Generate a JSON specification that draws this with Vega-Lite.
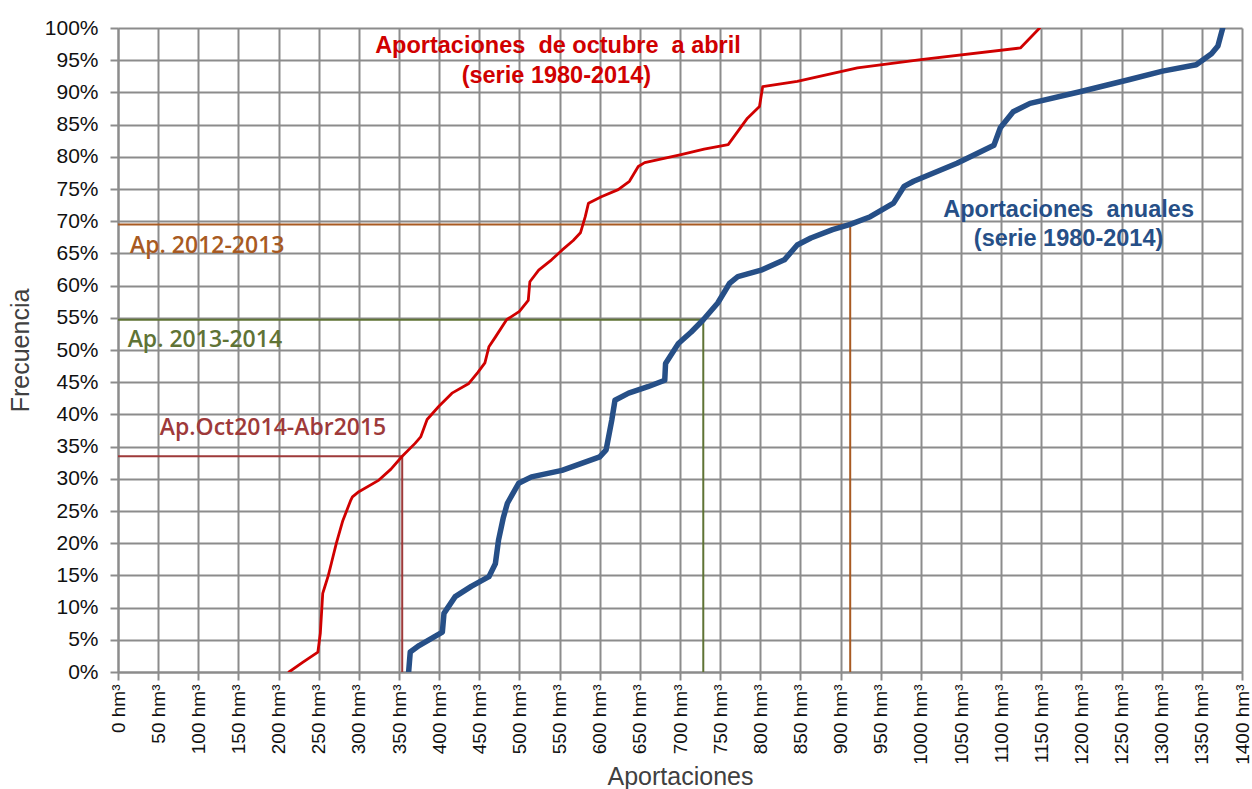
{
  "$schema": "https://vega.github.io/schema/vega-lite/v6.json",
  "autosize": {"type": "none"},
  "padding": {"left": 118, "top": 28, "right": 10, "bottom": 117},
  "width": 1124,
  "height": 644,
  "background": "white",
  "config": {
    "view": {"stroke": null},
    "font": "Liberation Sans",
    "axis": {"labelOverlap": false, "labelBound": false, "labelFlush": false, "labelSeparation": 0}
  },
  "datasets": {
    "curves": [
      {"g": "oct", "o": 1, "x": 213, "y": 0},
      {"g": "oct", "o": 2, "x": 230, "y": 1.5},
      {"g": "oct", "o": 3, "x": 249, "y": 3.1},
      {"g": "oct", "o": 4, "x": 252, "y": 6},
      {"g": "oct", "o": 5, "x": 255, "y": 12.2},
      {"g": "oct", "o": 6, "x": 257, "y": 13},
      {"g": "oct", "o": 7, "x": 262, "y": 15},
      {"g": "oct", "o": 8, "x": 266, "y": 17},
      {"g": "oct", "o": 9, "x": 272, "y": 20},
      {"g": "oct", "o": 10, "x": 280, "y": 23.5},
      {"g": "oct", "o": 11, "x": 290, "y": 26.7},
      {"g": "oct", "o": 12, "x": 292, "y": 27.2},
      {"g": "oct", "o": 13, "x": 300, "y": 28},
      {"g": "oct", "o": 14, "x": 325, "y": 29.8},
      {"g": "oct", "o": 15, "x": 340, "y": 31.5},
      {"g": "oct", "o": 16, "x": 354, "y": 33.5},
      {"g": "oct", "o": 17, "x": 370, "y": 35.5},
      {"g": "oct", "o": 18, "x": 377, "y": 36.5},
      {"g": "oct", "o": 19, "x": 385, "y": 39.2},
      {"g": "oct", "o": 20, "x": 400, "y": 41.3},
      {"g": "oct", "o": 21, "x": 416, "y": 43.3},
      {"g": "oct", "o": 22, "x": 437, "y": 44.8},
      {"g": "oct", "o": 23, "x": 448, "y": 46.5},
      {"g": "oct", "o": 24, "x": 457, "y": 48},
      {"g": "oct", "o": 25, "x": 462, "y": 50.5},
      {"g": "oct", "o": 26, "x": 470, "y": 52},
      {"g": "oct", "o": 27, "x": 484, "y": 54.7},
      {"g": "oct", "o": 28, "x": 500, "y": 56},
      {"g": "oct", "o": 29, "x": 511, "y": 57.7},
      {"g": "oct", "o": 30, "x": 513, "y": 60.6},
      {"g": "oct", "o": 31, "x": 524, "y": 62.4},
      {"g": "oct", "o": 32, "x": 540, "y": 64},
      {"g": "oct", "o": 33, "x": 553, "y": 65.5},
      {"g": "oct", "o": 34, "x": 567, "y": 67},
      {"g": "oct", "o": 35, "x": 576, "y": 68.2},
      {"g": "oct", "o": 36, "x": 582, "y": 70.7},
      {"g": "oct", "o": 37, "x": 586, "y": 72.8},
      {"g": "oct", "o": 38, "x": 602, "y": 73.8},
      {"g": "oct", "o": 39, "x": 623, "y": 74.9},
      {"g": "oct", "o": 40, "x": 637, "y": 76.2},
      {"g": "oct", "o": 41, "x": 648, "y": 78.5},
      {"g": "oct", "o": 42, "x": 656, "y": 79.1},
      {"g": "oct", "o": 43, "x": 700, "y": 80.3},
      {"g": "oct", "o": 44, "x": 730, "y": 81.2},
      {"g": "oct", "o": 45, "x": 760, "y": 81.9},
      {"g": "oct", "o": 46, "x": 784, "y": 86},
      {"g": "oct", "o": 47, "x": 799, "y": 87.8},
      {"g": "oct", "o": 48, "x": 803, "y": 90.9},
      {"g": "oct", "o": 49, "x": 846, "y": 91.7},
      {"g": "oct", "o": 50, "x": 921, "y": 93.8},
      {"g": "oct", "o": 51, "x": 1000, "y": 95.1},
      {"g": "oct", "o": 52, "x": 1124, "y": 96.9},
      {"g": "oct", "o": 53, "x": 1148, "y": 100},
      {"g": "anual", "o": 1, "x": 362, "y": 0},
      {"g": "anual", "o": 2, "x": 364, "y": 3.1},
      {"g": "anual", "o": 3, "x": 375, "y": 4.1},
      {"g": "anual", "o": 4, "x": 404, "y": 6.2},
      {"g": "anual", "o": 5, "x": 406, "y": 9.1},
      {"g": "anual", "o": 6, "x": 420, "y": 11.7},
      {"g": "anual", "o": 7, "x": 440, "y": 13.3},
      {"g": "anual", "o": 8, "x": 462, "y": 14.8},
      {"g": "anual", "o": 9, "x": 470, "y": 16.8},
      {"g": "anual", "o": 10, "x": 474, "y": 20.5},
      {"g": "anual", "o": 11, "x": 480, "y": 24},
      {"g": "anual", "o": 12, "x": 485, "y": 26.2},
      {"g": "anual", "o": 13, "x": 499, "y": 29.3},
      {"g": "anual", "o": 14, "x": 515, "y": 30.3},
      {"g": "anual", "o": 15, "x": 553, "y": 31.3},
      {"g": "anual", "o": 16, "x": 600, "y": 33.4},
      {"g": "anual", "o": 17, "x": 608, "y": 34.5},
      {"g": "anual", "o": 18, "x": 615, "y": 39.1},
      {"g": "anual", "o": 19, "x": 619, "y": 42.2},
      {"g": "anual", "o": 20, "x": 636, "y": 43.3},
      {"g": "anual", "o": 21, "x": 660, "y": 44.3},
      {"g": "anual", "o": 22, "x": 681, "y": 45.3},
      {"g": "anual", "o": 23, "x": 682, "y": 47.9},
      {"g": "anual", "o": 24, "x": 698, "y": 51},
      {"g": "anual", "o": 25, "x": 714, "y": 52.8},
      {"g": "anual", "o": 26, "x": 729, "y": 54.7},
      {"g": "anual", "o": 27, "x": 747, "y": 57.3},
      {"g": "anual", "o": 28, "x": 762, "y": 60.4},
      {"g": "anual", "o": 29, "x": 772, "y": 61.4},
      {"g": "anual", "o": 30, "x": 801, "y": 62.4},
      {"g": "anual", "o": 31, "x": 830, "y": 64},
      {"g": "anual", "o": 32, "x": 846, "y": 66.3},
      {"g": "anual", "o": 33, "x": 863, "y": 67.4},
      {"g": "anual", "o": 34, "x": 890, "y": 68.7},
      {"g": "anual", "o": 35, "x": 912, "y": 69.5},
      {"g": "anual", "o": 36, "x": 937, "y": 70.7},
      {"g": "anual", "o": 37, "x": 966, "y": 72.8},
      {"g": "anual", "o": 38, "x": 979, "y": 75.4},
      {"g": "anual", "o": 39, "x": 991, "y": 76.2},
      {"g": "anual", "o": 40, "x": 1045, "y": 79},
      {"g": "anual", "o": 41, "x": 1091, "y": 81.8},
      {"g": "anual", "o": 42, "x": 1099, "y": 84.5},
      {"g": "anual", "o": 43, "x": 1115, "y": 87},
      {"g": "anual", "o": 44, "x": 1136, "y": 88.3},
      {"g": "anual", "o": 45, "x": 1198, "y": 90.1},
      {"g": "anual", "o": 46, "x": 1260, "y": 92},
      {"g": "anual", "o": 47, "x": 1301, "y": 93.3},
      {"g": "anual", "o": 48, "x": 1343, "y": 94.3},
      {"g": "anual", "o": 49, "x": 1362, "y": 96},
      {"g": "anual", "o": 50, "x": 1370, "y": 97.2},
      {"g": "anual", "o": 51, "x": 1376, "y": 100}
    ],
    "refs": [
      {"g": "r2012", "o": 1, "x": 0, "y": 69.5},
      {"g": "r2012", "o": 2, "x": 912, "y": 69.5},
      {"g": "r2012", "o": 3, "x": 912, "y": 0},
      {"g": "r2013", "o": 1, "x": 0, "y": 54.7},
      {"g": "r2013", "o": 2, "x": 729, "y": 54.7},
      {"g": "r2013", "o": 3, "x": 729, "y": 0},
      {"g": "r2014", "o": 1, "x": 0, "y": 33.5},
      {"g": "r2014", "o": 2, "x": 354, "y": 33.5},
      {"g": "r2014", "o": 3, "x": 354, "y": 0}
    ],
    "reflabels": [
      {"g": "r2012", "x": 15, "y": 66.2, "t": "Ap. 2012-2013"},
      {"g": "r2013", "x": 12, "y": 51.6, "t": "Ap. 2013-2014"},
      {"g": "r2014", "x": 52, "y": 37.9, "t": "Ap.Oct2014-Abr2015"}
    ],
    "titles": [
      {"g": "oct", "x": 548, "y": 97.2, "t": "Aportaciones\u00a0 de octubre\u00a0 a abril"},
      {"g": "oct", "x": 546, "y": 92.6, "t": "(serie 1980-2014)"},
      {"g": "anual", "x": 1184, "y": 71.8, "t": "Aportaciones\u00a0 anuales"},
      {"g": "anual", "x": 1184, "y": 67.3, "t": "(serie 1980-2014)"}
    ]
  },
  "encoding": {
    "x": {"field": "x", "type": "quantitative", "scale": {"domain": [0, 1400], "nice": false},
      "axis": {
        "values": [0,50,100,150,200,250,300,350,400,450,500,550,600,650,700,750,800,850,900,950,1000,1050,1100,1150,1200,1250,1300,1350,1400],
        "tickCount": 200,
        "labelExpr": "datum.value + ' hm³'",
        "labelAngle": -90,
        "labelFontSize": 19,
        "labelColor": "#111111",
        "labelPadding": 4,
        "labelOverlap": false,
        "tickSize": 8,
        "tickWidth": 2,
        "tickColor": "#8C8C8C",
        "grid": true,
        "gridColor": "#8C8C8C",
        "gridWidth": 2,
        "gridOpacity": 1,
        "domainColor": "#8C8C8C",
        "domainWidth": 2,
        "title": "Aportaciones",
        "titleFontSize": 25,
        "titleFontWeight": "normal",
        "titleColor": "#404040",
        "titlePadding": 0
      }},
    "y": {"field": "y", "type": "quantitative", "scale": {"domain": [0, 100], "nice": false},
      "axis": {
        "values": [0,5,10,15,20,25,30,35,40,45,50,55,60,65,70,75,80,85,90,95,100],
        "tickCount": 200,
        "labelExpr": "datum.value + '%'",
        "labelFontSize": 21,
        "labelColor": "#111111",
        "labelPadding": 12,
        "labelOverlap": false,
        "tickSize": 8,
        "tickWidth": 2,
        "tickColor": "#8C8C8C",
        "grid": true,
        "gridColor": "#8C8C8C",
        "gridWidth": 2,
        "gridOpacity": 1,
        "domainColor": "#8C8C8C",
        "domainWidth": 2,
        "title": "Frecuencia",
        "titleFontSize": 25,
        "titleFontWeight": "normal",
        "titleColor": "#404040",
        "titlePadding": 11
      }},
    "color": {"field": "g", "type": "nominal", "legend": null,
      "scale": {"domain": ["oct", "anual", "r2012", "r2013", "r2014"],
                "range": ["#D00000", "#264F87", "#A85A22", "#5F7335", "#9E3A3A"]}}
  },
  "layer": [
    {
      "data": {"name": "refs"},
      "mark": {"type": "line", "strokeWidth": 2, "clip": true},
      "encoding": {
        "order": {"field": "o", "type": "quantitative"},
        "detail": {"field": "g"}
      }
    },
    {
      "data": {"name": "curves"},
      "mark": {"type": "line", "clip": true, "strokeJoin": "round", "strokeCap": "round"},
      "encoding": {
        "order": {"field": "o", "type": "quantitative"},
        "strokeWidth": {"field": "g", "type": "nominal", "legend": null,
          "scale": {"domain": ["oct", "anual"], "range": [2.8, 5.5]}}
      }
    },
    {
      "data": {"name": "reflabels"},
      "mark": {"type": "text", "align": "left", "baseline": "middle", "font": "Open Sans", "fontSize": 23, "fontWeight": 600},
      "encoding": {
        "text": {"field": "t"}
      }
    },
    {
      "data": {"name": "titles"},
      "mark": {"type": "text", "align": "center", "baseline": "middle", "font": "Liberation Sans", "fontSize": 23.5, "fontWeight": "bold"},
      "encoding": {
        "text": {"field": "t"}
      }
    }
  ]
}
